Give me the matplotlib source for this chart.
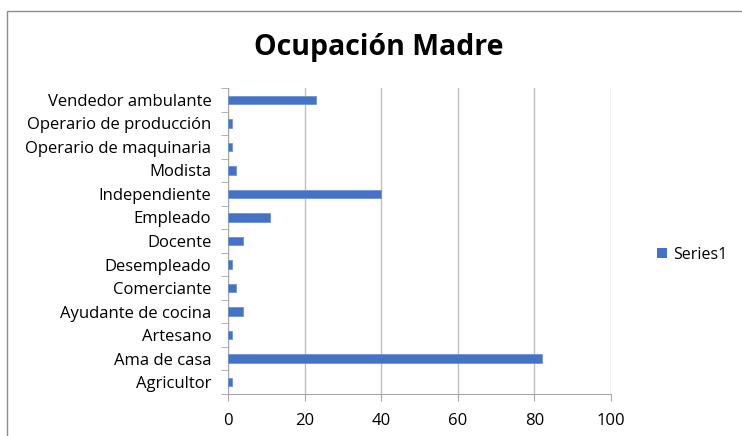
import matplotlib
matplotlib.use("Agg")
import matplotlib.pyplot as plt
from matplotlib.patches import Rectangle, Patch

categories = ["Agricultor", "Ama de casa", "Artesano", "Ayudante de cocina", "Comerciante",
              "Desempleado", "Docente", "Empleado", "Independiente", "Modista",
              "Operario de maquinaria", "Operario de producción", "Vendedor ambulante"]
values = [1, 82, 1, 4, 2, 1, 4, 11, 40, 2, 1, 1, 23]
xticks = [0, 20, 40, 60, 80, 100]
series_name = "Series1"

plt.rcParams['font.family'] = ['Open Sans', 'DejaVu Sans']

fig = plt.figure(figsize=(7.42, 4.36), dpi=100)
ax = fig.add_axes([228/742, 1 - 394/436, (611-228)/742, (394-88)/436])

pos = list(range(len(categories)))
ax.barh(pos, values, height=0.36, color="#4472C4", edgecolor="#6f93d6", linewidth=0.6, zorder=3)
ax.set_ylim(-0.5, len(categories) - 0.5)
ax.set_xlim(0, 100)
ax.set_xticks(xticks)
ax.set_xticklabels([str(t) for t in xticks], fontsize=12)
ax.set_yticks(pos)
ax.set_yticklabels(categories, fontsize=12)
ax.set_yticks([p - 0.5 for p in pos] + [len(categories) - 0.5], minor=True)
ax.tick_params(axis='y', which='major', length=0, pad=12)
ax.tick_params(axis='y', which='minor', length=5, color="#a6a6a6", direction='out')
ax.tick_params(axis='x', length=5, color="#a6a6a6", direction='out', pad=9)
ax.grid(axis='x', color="#bfbfbf", linewidth=1, zorder=0)
for s in ['top', 'right']:
    ax.spines[s].set_visible(False)
ax.spines['left'].set_color("#a6a6a6")
ax.spines['bottom'].set_color("#a6a6a6")

fig.text(379/742, 1 - 47/436, "Ocupación Madre", ha='center', va='center', fontsize=20.5, fontweight='bold')

leg = fig.legend(handles=[Patch(facecolor="#4472C4", label=series_name)], loc='center left',
                 bbox_to_anchor=(643/742, 1 - 255/436), frameon=False, fontsize=11.5,
                 handlelength=0.6, handleheight=0.6, handletextpad=0.4)

fig.patches.append(Rectangle((7/742, -0.05), 1.0, 1 - 11/436 + 0.05, transform=fig.transFigure,
                             fill=False, edgecolor="#8c8c8c", linewidth=1))

fig.savefig("out.png", dpi=100)
